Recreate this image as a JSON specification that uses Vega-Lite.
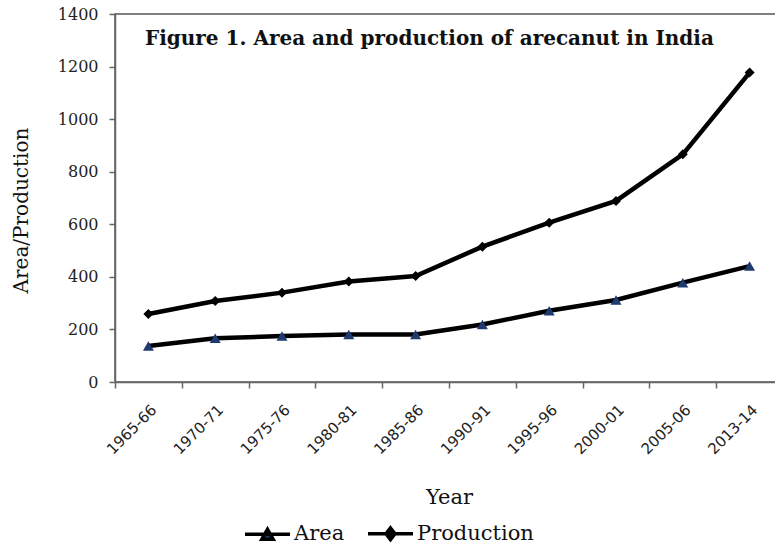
{
  "$schema": "https://vega.github.io/schema/vega-lite/v6.json",
  "width": 668,
  "height": 368,
  "autosize": {"type": "none"},
  "padding": {"left": 115, "top": 14, "right": 0, "bottom": 166},
  "background": "white",
  "title": {
    "text": "Figure 1. Area and production of arecanut in India",
    "anchor": "start",
    "frame": "group",
    "dx": 30,
    "offset": -43,
    "font": "DejaVu Serif",
    "fontSize": 20,
    "fontWeight": "bold",
    "color": "#111"
  },
  "config": {
    "view": {"stroke": "#555", "strokeWidth": 1.5},
    "axis": {"grid": false, "domainColor": "#666", "tickColor": "#666", "domainWidth": 1.5, "tickWidth": 1.5}
  },
  "data": {
    "values": [
      {"year": "1965-66", "series": "Area", "value": 137},
      {"year": "1970-71", "series": "Area", "value": 166},
      {"year": "1975-76", "series": "Area", "value": 175},
      {"year": "1980-81", "series": "Area", "value": 181},
      {"year": "1985-86", "series": "Area", "value": 181},
      {"year": "1990-91", "series": "Area", "value": 219},
      {"year": "1995-96", "series": "Area", "value": 271},
      {"year": "2000-01", "series": "Area", "value": 312},
      {"year": "2005-06", "series": "Area", "value": 378},
      {"year": "2013-14", "series": "Area", "value": 441},
      {"year": "1965-66", "series": "Production", "value": 259},
      {"year": "1970-71", "series": "Production", "value": 308},
      {"year": "1975-76", "series": "Production", "value": 340},
      {"year": "1980-81", "series": "Production", "value": 382},
      {"year": "1985-86", "series": "Production", "value": 403},
      {"year": "1990-91", "series": "Production", "value": 515},
      {"year": "1995-96", "series": "Production", "value": 606},
      {"year": "2000-01", "series": "Production", "value": 689},
      {"year": "2005-06", "series": "Production", "value": 866},
      {"year": "2013-14", "series": "Production", "value": 1177}
    ]
  },
  "encoding": {
    "x": {
      "field": "year",
      "type": "ordinal",
      "sort": null,
      "scale": {"paddingInner": 0, "paddingOuter": 0},
      "axis": {
        "title": "Year",
        "titleFont": "DejaVu Serif",
        "titleFontSize": 21,
        "titleFontWeight": "normal",
        "titleColor": "#111",
        "titlePadding": 30,
        "labelAngle": -45,
        "labelFont": "DejaVu Sans",
        "labelFontSize": 15,
        "labelColor": "#222",
        "labelPadding": 14,
        "tickBand": "extent",
        "tickSize": 6
      }
    },
    "y": {
      "field": "value",
      "type": "quantitative",
      "scale": {"domain": [0, 1400]},
      "axis": {
        "title": "Area/Production",
        "titleFont": "DejaVu Serif",
        "titleFontSize": 20,
        "titleFontWeight": "normal",
        "titleColor": "#111",
        "titlePadding": 26,
        "titleY": 196,
        "values": [0, 200, 400, 600, 800, 1000, 1200, 1400],
        "format": "d",
        "labelFont": "DejaVu Serif",
        "labelFontSize": 16,
        "labelColor": "#222",
        "labelPadding": 11,
        "tickSize": 6
      }
    }
  },
  "layer": [
    {
      "mark": {"type": "line", "strokeWidth": 4.5},
      "encoding": {
        "color": {
          "field": "series",
          "type": "nominal",
          "scale": {"domain": ["Area", "Production"], "range": ["#000000", "#000000"]},
          "legend": {
            "title": null,
            "orient": "none",
            "legendX": 128,
            "legendY": 495,
            "direction": "horizontal",
            "labelFont": "DejaVu Serif",
            "labelFontSize": 21,
            "labelColor": "#111",
            "symbolSize": 2025,
            "labelOffset": 2,
            "columnPadding": 16,
            "encode": {
              "symbols": {
                "update": {
                  "shape": {"signal": "datum.value === 'Area' ? 'M-1,0H1M-0.25,0.22L0,-0.22L0.25,0.22Z' : 'M-1,0H1M0,-0.26L0.2,0L0,0.26L-0.2,0Z'"},
                  "fill": {"signal": "datum.value === 'Area' ? '#1f3a6e' : '#000000'"},
                  "stroke": {"value": "#000000"},
                  "strokeWidth": {"value": 3.5},
                  "size": {"value": 2025}
                }
              }
            }
          }
        }
      }
    },
    {
      "transform": [{"filter": "datum.series === 'Area'"}],
      "mark": {"type": "point", "filled": true, "opacity": 1, "shape": "triangle-up", "size": 120, "fill": "#1f3a6e"}
    },
    {
      "transform": [{"filter": "datum.series === 'Production'"}],
      "mark": {"type": "point", "filled": true, "opacity": 1, "shape": "diamond", "size": 100, "fill": "#000000"}
    }
  ]
}
